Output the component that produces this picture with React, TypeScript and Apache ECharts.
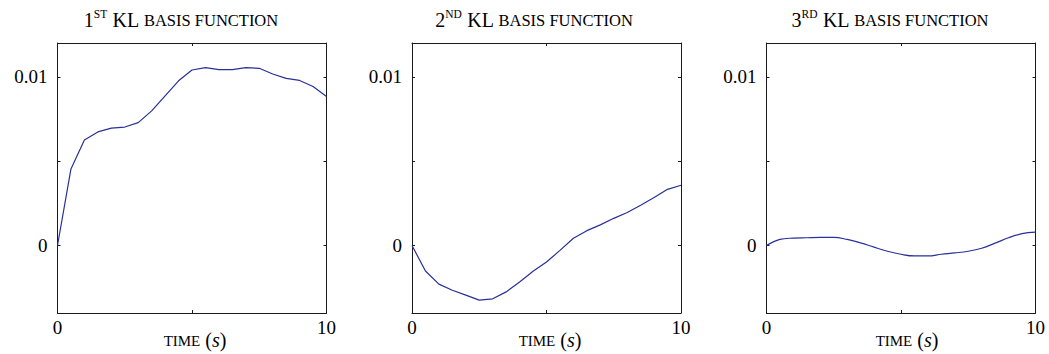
import React, { useEffect, useRef } from "react";
import * as echarts from "echarts";

const times = [0, 0.5, 1, 1.5, 2, 2.5, 3, 3.5, 4, 4.5, 5, 5.5, 6, 6.5, 7, 7.5, 8, 8.5, 9, 9.5, 10];
const basis1 = [0, 0.00454, 0.00625, 0.00673, 0.00696, 0.00702, 0.00728, 0.00798, 0.00887, 0.00976, 0.0104, 0.01054, 0.01042, 0.01042, 0.01054, 0.0105, 0.01016, 0.0099, 0.00978, 0.00942, 0.00883];
const basis2 = [0, -0.00151, -0.00229, -0.00265, -0.00294, -0.00324, -0.00316, -0.00275, -0.00216, -0.00153, -0.00098, -0.00029, 0.00043, 0.00088, 0.00122, 0.00161, 0.00196, 0.00239, 0.00284, 0.00333, 0.00357];
const basis3 = [0, 0.00036, 0.00044, 0.00046, 0.00048, 0.00048, 0.00036, 0.00016, -0.0001, -0.00034, -0.00052, -0.00062, -0.00062, -0.00052, -0.00044, -0.00034, -0.00016, 0.00014, 0.00046, 0.0007, 0.00079];
const ordinals = ["1", "2", "3"];
const suffixes = ["ST", "ND", "RD"];
const titleText = "KL";
const titleRest = "BASIS FUNCTION";
const xName = "TIME";
const xUnit = "s";
const yTicks = [0, 0.005, 0.01];
const yLabels = [0, 0.01];
const xTicks = [0, 5, 10];
const xLabels = [0, 10];

const FONT = "Liberation Serif";

export default function App() {
  const ref = useRef<HTMLDivElement>(null);
  useEffect(() => {
    if (!ref.current) return;
    const chart = echarts.init(ref.current, undefined, { renderer: "svg" });
    const series = [basis1, basis2, basis3];
    const lefts = [57.5, 412, 766.5];
    const width = 269;
    const top = 43;
    const height = 270;
    const grids = lefts.map((l) => ({ left: l, top, width, height, containLabel: false }));
    const xAxes: any[] = [];
    const yAxes: any[] = [];
    const seriesOpts: any[] = [];
    const axisLine = { show: true, onZero: false, lineStyle: { color: "#1a1a1a", width: 1 } };
    lefts.forEach((_, i) => {
      xAxes.push({
        type: "value", gridIndex: i, position: "bottom", min: 0, max: 10,
        axisLine, splitLine: { show: false },
        axisTick: { show: true, inside: true, length: 3, customValues: xTicks, lineStyle: { color: "#1a1a1a" } },
        axisLabel: { show: true, customValues: xLabels, color: "#000", fontFamily: FONT, fontSize: 19, margin: 5 },
      });
      xAxes.push({
        type: "value", gridIndex: i, position: "top", min: 0, max: 10,
        axisLine, splitLine: { show: false },
        axisTick: { show: true, inside: true, length: 3, customValues: xTicks, lineStyle: { color: "#1a1a1a" } },
        axisLabel: { show: false },
      });
      yAxes.push({
        type: "value", gridIndex: i, position: "left", min: -0.004, max: 0.012,
        axisLine, splitLine: { show: false },
        axisTick: { show: true, inside: true, length: 3, customValues: yTicks, lineStyle: { color: "#1a1a1a" } },
        axisLabel: { show: true, customValues: yLabels, color: "#000", fontFamily: FONT, fontSize: 19, margin: 10 },
      });
      yAxes.push({
        type: "value", gridIndex: i, position: "right", min: -0.004, max: 0.012,
        axisLine, splitLine: { show: false },
        axisTick: { show: true, inside: true, length: 3, customValues: yTicks, lineStyle: { color: "#1a1a1a" } },
        axisLabel: { show: false },
      });
      seriesOpts.push({
        type: "line",
        xAxisIndex: 2 * i,
        yAxisIndex: 2 * i,
        data: times.map((t, k) => [t, series[i][k]]),
        showSymbol: false,
        smooth: i === 2 ? 0.4 : false,
        lineStyle: { color: "#28309a", width: 1.2 },
        silent: true,
      });
    });
    const titleCenters = [181, 534, 890];
    const xNameCenters = [195, 550, 907];
    const rich = {
      n: { fontFamily: FONT, fontSize: 20, fill: "#000", verticalAlign: "bottom", lineHeight: 24 },
      sup: { fontFamily: FONT, fontSize: 11.5, fill: "#000", verticalAlign: "top", lineHeight: 24, padding: [2, 0, 0, 0] },
      sc: { fontFamily: FONT, fontSize: 16.5, fill: "#000", verticalAlign: "bottom", lineHeight: 24, padding: [0, 0, 1, 0] },
      sx: { fontFamily: FONT, fontSize: 15, fill: "#000", verticalAlign: "bottom", lineHeight: 24, padding: [0, 0, 1, 0] },
      it: { fontFamily: FONT, fontSize: 20, fontStyle: "italic", fill: "#000", verticalAlign: "bottom", lineHeight: 24 },
    };
    const graphics: any[] = [];
    lefts.forEach((_, i) => {
      graphics.push({
        type: "text",
        x: titleCenters[i],
        y: 18,
        style: {
          text: `{n|${ordinals[i]}}{sup|${suffixes[i]}}{n| ${titleText} }{sc|${titleRest}}`,
          rich,
          align: "center",
          verticalAlign: "middle",
          fill: "#000",
        },
      });
      graphics.push({
        type: "text",
        x: xNameCenters[i],
        y: 337.5,
        style: {
          text: `{sx|${xName}}{n| (}{it|${xUnit}}{n|)}`,
          rich,
          align: "center",
          verticalAlign: "middle",
          fill: "#000",
        },
      });
    });
    chart.setOption({
      animation: false,
      backgroundColor: "#fff",
      grid: grids,
      xAxis: xAxes,
      yAxis: yAxes,
      series: seriesOpts,
      graphic: graphics,
    });
    return () => chart.dispose();
  }, []);
  return (
    <div
      ref={ref}
      style={{ position: "fixed", left: 0, top: 0, width: 1049, height: 354, background: "#fff" }}
    />
  );
}
